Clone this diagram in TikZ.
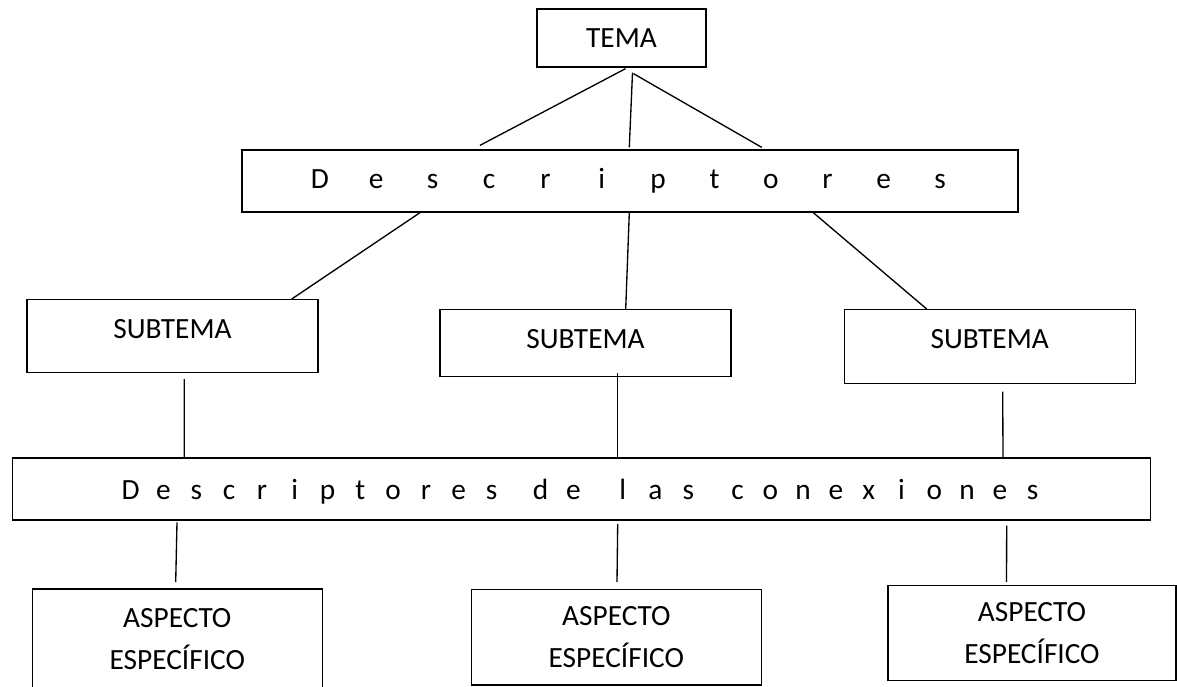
\documentclass[tikz,border=0pt]{standalone}
\usepackage{fontspec}
\setmainfont{Carlito}
\usetikzlibrary{calc}
\newcommand{\espaciar}[2]{\foreach \letra in {#2}{\makebox[#1]{\letra}}}
\begin{document}
\begin{tikzpicture}[x=0.75pt,y=-0.75pt,line width=1pt,
    every node/.style={font=\fontsize{22}{31.5}\selectfont},
    caja/.style={draw,inner sep=0pt},
    subtema/.style={caja,anchor=north,minimum width=218.25pt,text height=29pt},
    aspecto/.style={caja,align=center,minimum width=217.5pt}]
    \useasboundingbox (0,0) rectangle (1177,686);

    \node[caja,minimum width=126.75pt,minimum height=43.5pt] (tema) at (621.5,38) {TEMA};
    \node[caja,minimum width=582pt,minimum height=46.5pt] (desc) at (630,181) {\espaciar{42.3pt}{D,e,s,c,r,i,p,t,o,r,e,s}};

    \node[subtema,text depth=25.5pt] (sub1) at (172.5,299) {SUBTEMA};
    \node[subtema,text depth=21pt] (sub2) at (585.5,309) {SUBTEMA};
    \node[subtema,text depth=26.25pt] (sub3) at (989.7,309) {SUBTEMA};

    \node[caja,minimum width=853.5pt,minimum height=46.5pt,text depth=0pt] (conex) at (581.7,489) {\espaciar{24.6pt}{D,e,s,c,r,i,p,t,o,r,e,s}\hspace{12.3pt}\espaciar{24.6pt}{d,e}\hspace{12.3pt}\espaciar{24.6pt}{l,a,s}\hspace{12.3pt}\espaciar{24.6pt}{c,o,n,e,x,i,o,n,e,s}};

    \node[aspecto,minimum height=75.75pt] (asp1) at (177.3,639.5) {ASPECTO\\ESPECÍFICO};
    \node[aspecto,minimum height=71.8pt] (asp2) at (616.3,637.2) {ASPECTO\\ESPECÍFICO};
    \node[aspecto,minimum width=216pt,minimum height=71.25pt] (asp3) at (1032,633.2) {ASPECTO\\ESPECÍFICO};

    \path[draw]
        ($(tema.south)+(4,1)$) edge ($(desc.north)+(-150,-4)$)
        ($(tema.south)+(11,5)$) edge ($(desc.north)+(-0.7,-2)$)
        ($(tema.south)+(12,6)$) edge ($(desc.north)+(131.7,-2)$)
        ($(desc.south)+(-210,0)$) edge ($(sub1.north)+(119.2,0)$)
        ($(desc.south)+(-0.7,0)$) edge ($(sub2.north)+(40.2,0)$)
        ($(desc.south)+(183.3,0)$) edge ($(sub3.north)+(-63,0)$)
        ($(sub1.south)+(11.8,6)$) edge ($(conex.north)+(-397.4,0)$)
        ($(sub2.south)+(32.2,-3.7)$) edge ($(conex.north)+(36,0)$)
        ($(sub3.south)+(13,7.7)$) edge ($(conex.north)+(421.3,0)$)
        ($(conex.south)+(-404.7,1.7)$) edge ($(asp1.north)+(-1.6,-6.3)$)
        ($(conex.south)+(36,3.3)$) edge ($(asp2.north)+(0.7,-6.6)$)
        ($(conex.south)+(425,5)$) edge ($(asp3.north)+(-25.5,-3)$)
        ;
\end{tikzpicture}
\end{document}
